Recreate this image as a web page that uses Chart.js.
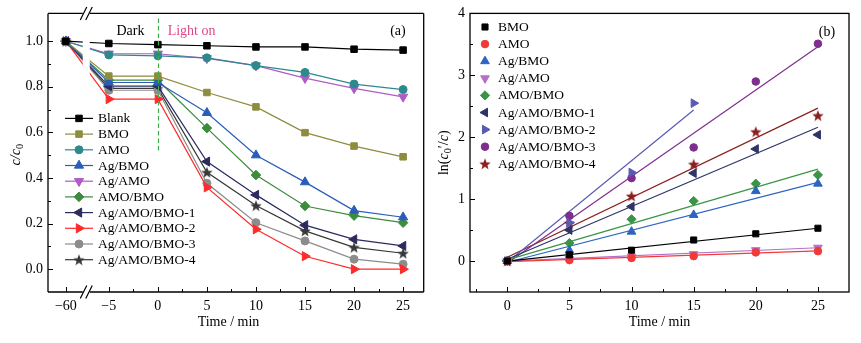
<!DOCTYPE html>
<html lang="en">
<head>
<meta charset="UTF-8">
<title>c/c0 and ln(c0'/c) vs time</title>
<script src="https://cdn.jsdelivr.net/npm/chart.js"></script>
<style>
  body { margin: 0; background: #fff; }
  .panel { position: absolute; top: 0; height: 343px; }
  #panelA { left: 0; width: 430px; }
  #panelB { left: 430px; width: 431px; }
</style>
</head>
<body>
<div class="panel" id="panelA"><canvas id="chartA" width="430" height="343"></canvas></div>
<div class="panel" id="panelB"><canvas id="chartB" width="431" height="343"></canvas></div>
<script>
// ---------- panel (a): c/c0 vs time ----------
const timeA = [-60, -5, 0, 5, 10, 15, 20, 25];
const namesA = ['Blank', 'BMO', 'AMO', 'Ag/BMO', 'Ag/AMO', 'AMO/BMO',
                'Ag/AMO/BMO-1', 'Ag/AMO/BMO-2', 'Ag/AMO/BMO-3', 'Ag/AMO/BMO-4'];
const blankA  = [1.0, 0.990, 0.985, 0.980, 0.975, 0.975, 0.965, 0.961];
const bmoA    = [1.0, 0.847, 0.847, 0.775, 0.712, 0.599, 0.540, 0.493];
const amoA    = [1.0, 0.940, 0.936, 0.927, 0.893, 0.863, 0.812, 0.788];
const agBmoA  = [1.0, 0.819, 0.819, 0.686, 0.500, 0.382, 0.257, 0.228];
const agAmoA  = [1.0, 0.945, 0.945, 0.925, 0.893, 0.838, 0.793, 0.756];
const amoBmoA = [1.0, 0.829, 0.829, 0.619, 0.413, 0.277, 0.235, 0.204];
const s1A     = [1.0, 0.803, 0.803, 0.472, 0.326, 0.193, 0.131, 0.102];
const s2A     = [1.0, 0.746, 0.746, 0.359, 0.175, 0.057, 0.000, 0.000];
const s3A     = [1.0, 0.785, 0.785, 0.377, 0.204, 0.124, 0.044, 0.022];
const s4A     = [1.0, 0.793, 0.793, 0.425, 0.279, 0.168, 0.096, 0.070];
const valuesA = [blankA, bmoA, amoA, agBmoA, agAmoA, amoBmoA, s1A, s2A, s3A, s4A];
const ticksXA = [-60, -5, 0, 5, 10, 15, 20, 25];
const ticksYA = [0, 0.2, 0.4, 0.6, 0.8, 1.0];

// ---------- panel (b): ln(c0'/c) vs time ----------
const timeB = [0, 5, 10, 15, 20, 25];
const namesB = ['BMO', 'AMO', 'Ag/BMO', 'Ag/AMO', 'AMO/BMO',
                'Ag/AMO/BMO-1', 'Ag/AMO/BMO-2', 'Ag/AMO/BMO-3', 'Ag/AMO/BMO-4'];
const bmoB    = [0, 0.10, 0.175, 0.34, 0.44, 0.53];
const amoB    = [0, 0.016, 0.05, 0.08, 0.14, 0.16];
const agBmoB  = [0, 0.17, 0.475, 0.745, 1.13, 1.25];
const agAmoB  = [0, 0.03, 0.07, 0.11, 0.175, 0.215];
const amoBmoB = [0, 0.29, 0.675, 0.97, 1.25, 1.39];
const s1B     = [0, 0.50, 0.88, 1.42, 1.81, 2.04];
const s2B     = [0, 0.62, 1.43, 2.55];
const s3B     = [0, 0.73, 1.34, 1.835, 2.90, 3.51];
const s4B     = [0, 0.61, 1.05, 1.565, 2.09, 2.35];
const valuesB = [bmoB, amoB, agBmoB, agAmoB, amoBmoB, s1B, s2B, s3B, s4B];
// linear fits: value at t=0 and at the last time
const fitStartB   = [0.0, -0.01, -0.02, 0.0, 0.02, 0.03, -0.02, -0.03, 0.06];
const fitEndB     = [0.53, 0.165, 1.27, 0.215, 1.485, 2.16, 2.44, 3.46, 2.47];
const fitEndTimeB = [25, 25, 25, 25, 25, 25, 15, 25, 25];
const ticksXB = [0, 5, 10, 15, 20, 25];
const ticksYB = [0, 1, 2, 3, 4];

// ---------- look ----------
const FONT = '"Liberation Serif", "Times New Roman", serif';
const POS_60 = -9.38;     // where -60 sits on the squeezed axis
const BREAK_AT = -7.3;    // axis break between -60 and -5
const posA = t => (t === -60 ? POS_60 : t);
const minus = s => String(s).replace('-', '\u2212');

function starImage(color, size) {
  const c = document.createElement('canvas');
  c.width = c.height = size;
  const g = c.getContext('2d');
  const R = size / 2, r = R * 0.42;
  g.beginPath();
  for (let k = 0; k < 10; k++) {
    const rad = k % 2 ? r : R;
    const ang = -Math.PI / 2 + k * Math.PI / 5;
    g.lineTo(R + rad * Math.cos(ang), R + 0.6 + rad * Math.sin(ang));
  }
  g.closePath();
  g.fillStyle = color;
  g.fill();
  return c;
}

const styleA = [
  { color: '#000000', shape: 'rect', rot: 0, r: 4.6 },
  { color: '#8e8c3e', shape: 'rect', rot: 0, r: 4.6 },
  { color: '#2c8a8c', shape: 'circle', rot: 0, r: 4 },
  { color: '#2a5cb8', shape: 'triangle', rot: 0, r: 5.3 },
  { color: '#b05cc8', shape: 'triangle', rot: 180, r: 5.3 },
  { color: '#3c8c3e', shape: 'rectRot', rot: 0, r: 4.8 },
  { color: '#2b2b5e', shape: 'triangle', rot: 270, r: 5.3 },
  { color: '#ff2a2a', shape: 'triangle', rot: 90, r: 5.3 },
  { color: '#8c8c8c', shape: 'circle', rot: 0, r: 4 },
  { color: '#383838', shape: 'star', rot: 0, r: 5 }
];
const styleB = [
  { color: '#000000', shape: 'rect', rot: 0, r: 4.3 },
  { color: '#f03a3a', shape: 'circle', rot: 0, r: 3.8 },
  { color: '#2c64c0', shape: 'triangle', rot: 0, r: 5 },
  { color: '#b46fc6', shape: 'triangle', rot: 180, r: 5 },
  { color: '#3a9446', shape: 'rectRot', rot: 0, r: 4.6 },
  { color: '#2e3466', shape: 'triangle', rot: 270, r: 5 },
  { color: '#5a5ab4', shape: 'triangle', rot: 90, r: 5 },
  { color: '#7e2e8e', shape: 'circle', rot: 0, r: 3.8 },
  { color: '#8b1e1e', shape: 'star', rot: 0, r: 5 }
];
const markOf = st => (st.shape === 'star' ? starImage(st.color, 12) : st.shape);
const marksA = styleA.map(markOf);
const marksB = styleB.map(markOf);

function fixedTicks(values) {
  return scale => { scale.ticks = values.map(v => ({ value: v })); };
}

function drawMarker(ctx, st, mark, x, y) {
  ctx.save();
  ctx.fillStyle = st.color;
  ctx.strokeStyle = st.color;
  ctx.lineWidth = 1;
  Chart.helpers.drawPoint(ctx, { pointStyle: mark, rotation: st.rot, radius: st.r, borderWidth: 1 }, x, y);
  ctx.restore();
}

function richText(ctx, parts, cx, cy, angle) {
  const size = 14;
  const fontOf = p => (p.italic ? 'italic ' : '') + (p.sub ? size * 0.72 : size) + 'px ' + FONT;
  ctx.save();
  ctx.translate(cx, cy);
  ctx.rotate(angle);
  ctx.fillStyle = '#000';
  ctx.textBaseline = 'alphabetic';
  ctx.textAlign = 'left';
  let total = 0;
  parts.forEach(p => { ctx.font = fontOf(p); total += ctx.measureText(p.t).width; });
  let x = -total / 2;
  parts.forEach(p => {
    ctx.font = fontOf(p);
    ctx.fillText(p.t, x, 5 + (p.sub ? 3 : 0));
    x += ctx.measureText(p.t).width;
  });
  ctx.restore();
}

function drawTickMarks(chart, xMajor, xMinor, yMajor, yMinor) {
  const { ctx, chartArea: a, scales: { x, y } } = chart;
  ctx.save();
  ctx.strokeStyle = '#000';
  ctx.lineWidth = 1;
  ctx.beginPath();
  const vx = (v, len) => { const p = Math.round(x.getPixelForValue(v)) + 0.5; ctx.moveTo(p, a.bottom); ctx.lineTo(p, a.bottom - len); };
  const vy = (v, len) => { const p = Math.round(y.getPixelForValue(v)) + 0.5; ctx.moveTo(a.left, p); ctx.lineTo(a.left + len, p); };
  xMajor.forEach(v => vx(v, 5));
  xMinor.forEach(v => vx(v, 3));
  yMajor.forEach(v => vy(v, 5));
  yMinor.forEach(v => vy(v, 3));
  ctx.stroke();
  ctx.restore();
}

function tickFont() { return { family: FONT, size: 14 }; }

// ---------- chart (a) ----------
const decorA = {
  id: 'decorA',
  afterDatasetsDraw(chart) {
    const { ctx, scales: { x, y } } = chart;
    const bx = x.getPixelForValue(BREAK_AT);
    const top = y.getPixelForValue(1.06), bot = y.getPixelForValue(0.7);
    ctx.save();
    ctx.fillStyle = '#fff';
    ctx.fillRect(bx - 3.5, top, 7, bot - top);
    ctx.restore();
  },
  afterDraw(chart) {
    const { ctx, chartArea: a, scales: { x, y } } = chart;
    const bx = x.getPixelForValue(BREAK_AT);
    ctx.save();
    // frame with the axis break
    ctx.strokeStyle = '#000';
    ctx.lineWidth = 1.3;
    ctx.beginPath();
    ctx.moveTo(a.left, a.top); ctx.lineTo(a.left, a.bottom);
    ctx.moveTo(a.right, a.top); ctx.lineTo(a.right, a.bottom);
    [a.top, a.bottom].forEach(yy => {
      ctx.moveTo(a.left, yy); ctx.lineTo(bx - 3.5, yy);
      ctx.moveTo(bx + 3.5, yy); ctx.lineTo(a.right, yy);
    });
    ctx.stroke();
    ctx.lineWidth = 1.2;
    ctx.beginPath();
    [a.top, a.bottom].forEach(yy => {
      [-3, 2.5].forEach(dx => {
        ctx.moveTo(bx + dx - 3, yy + 6.5);
        ctx.lineTo(bx + dx + 3.5, yy - 6.5);
      });
    });
    ctx.stroke();
    ctx.restore();

    drawTickMarks(chart, ticksXA.map(posA), [-2.5, 2.5, 7.5, 12.5, 17.5, 22.5],
                  ticksYA, [0.1, 0.3, 0.5, 0.7, 0.9]);

    // dark / light divider
    ctx.save();
    ctx.strokeStyle = '#3fae49';
    ctx.lineWidth = 1.2;
    ctx.setLineDash([4.5, 3]);
    ctx.beginPath();
    const x0 = Math.round(x.getPixelForValue(0)) + 0.5;
    ctx.moveTo(x0, y.getPixelForValue(1.1));
    ctx.lineTo(x0, y.getPixelForValue(0.52));
    ctx.stroke();
    ctx.setLineDash([]);
    ctx.font = '14px ' + FONT;
    ctx.textBaseline = 'middle';
    ctx.fillStyle = '#000';
    ctx.textAlign = 'center';
    ctx.fillText('Dark', x.getPixelForValue(-2.8), a.top + 18);
    ctx.fillStyle = '#e0468a';
    ctx.textAlign = 'left';
    ctx.fillText('Light on', x.getPixelForValue(1.0), a.top + 18);
    ctx.fillStyle = '#000';
    ctx.textAlign = 'right';
    ctx.fillText('(a)', a.right - 18, a.top + 18);

    // legend
    ctx.font = '13.5px ' + FONT;
    ctx.textAlign = 'left';
    namesA.forEach((name, i) => {
      const ly = a.top + 105 + i * 15.7;
      const st = styleA[i];
      ctx.strokeStyle = st.color;
      ctx.lineWidth = 1.2;
      ctx.beginPath();
      ctx.moveTo(a.left + 17, ly);
      ctx.lineTo(a.left + 45, ly);
      ctx.stroke();
      drawMarker(ctx, st, marksA[i], a.left + 31, ly);
      ctx.fillStyle = '#000';
      ctx.fillText(name, a.left + 50, ly + 0.5);
    });
    ctx.restore();

    richText(ctx, [{ t: 'c/c', italic: true }, { t: '0', sub: true }], 15, (a.top + a.bottom) / 2 + 2, -Math.PI / 2);
    richText(ctx, [{ t: 'Time / min' }], 228.5, 321, 0);
  }
};

new Chart(document.getElementById('chartA'), {
  type: 'line',
  data: {
    datasets: namesA.map((name, i) => ({
      label: name,
      data: timeA.map((t, k) => ({ x: posA(t), y: valuesA[i][k] })),
      borderColor: styleA[i].color,
      backgroundColor: styleA[i].color,
      borderWidth: 1.2,
      pointStyle: marksA[i],
      pointRotation: styleA[i].rot,
      pointRadius: styleA[i].r,
      pointBorderWidth: 1,
      pointBackgroundColor: styleA[i].color,
      pointBorderColor: styleA[i].color,
      tension: 0,
      order: i
    }))
  },
  options: {
    responsive: false,
    animation: false,
    layout: { padding: { left: 0, right: 3, top: 13, bottom: 0 } },
    plugins: { legend: { display: false }, tooltip: { enabled: false } },
    scales: {
      x: {
        type: 'linear', min: -11.2, max: 27.1,
        grid: { display: false, drawTicks: false },
        border: { display: false },
        afterBuildTicks: fixedTicks(ticksXA.map(posA)),
        afterFit: s => { s.height = 51; },
        ticks: {
          padding: 6, color: '#000', font: tickFont(), maxRotation: 0, autoSkip: false,
          callback: (v, i) => minus(ticksXA[i])
        }
      },
      y: {
        type: 'linear', min: -0.1, max: 1.122,
        grid: { display: false, drawTicks: false },
        border: { display: false },
        afterBuildTicks: fixedTicks(ticksYA),
        afterFit: s => { s.width = 48; },
        ticks: { padding: 5, color: '#000', font: tickFont(), callback: v => v.toFixed(1) }
      }
    }
  },
  plugins: [decorA]
});

// ---------- chart (b) ----------
const decorB = {
  id: 'decorB',
  afterDraw(chart) {
    const { ctx, chartArea: a } = chart;
    ctx.save();
    ctx.strokeStyle = '#000';
    ctx.lineWidth = 1.3;
    ctx.strokeRect(a.left, a.top, a.right - a.left, a.bottom - a.top);
    ctx.restore();

    drawTickMarks(chart, ticksXB, [-2.5, 2.5, 7.5, 12.5, 17.5, 22.5],
                  ticksYB, [0.5, 1.5, 2.5, 3.5]);

    ctx.save();
    ctx.font = '14px ' + FONT;
    ctx.fillStyle = '#000';
    ctx.textBaseline = 'middle';
    ctx.textAlign = 'center';
    ctx.fillText('(b)', a.right - 22, a.top + 19);

    ctx.font = '13.5px ' + FONT;
    ctx.textAlign = 'left';
    namesB.forEach((name, i) => {
      const ly = 27 + i * 17.1;
      drawMarker(ctx, styleB[i], marksB[i], a.left + 15, ly);
      ctx.fillStyle = '#000';
      ctx.fillText(name, a.left + 28, ly + 0.5);
    });
    ctx.restore();

    richText(ctx, [{ t: 'ln(' }, { t: 'c', italic: true }, { t: '0', sub: true }, { t: '\u2032/' },
                   { t: 'c', italic: true }, { t: ')' }], 13, (a.top + a.bottom) / 2, -Math.PI / 2);
    richText(ctx, [{ t: 'Time / min' }], (a.left + a.right) / 2, 321, 0);
  }
};

const pointSetsB = namesB.map((name, i) => ({
  label: name,
  data: valuesB[i].map((v, k) => ({ x: timeB[k], y: v })),
  showLine: false,
  pointStyle: marksB[i],
  pointRotation: styleB[i].rot,
  pointRadius: styleB[i].r,
  pointBorderWidth: 1,
  pointBackgroundColor: styleB[i].color,
  pointBorderColor: styleB[i].color,
  order: 0
}));
const fitSetsB = namesB.map((name, i) => ({
  label: name + ' fit',
  data: [{ x: 0, y: fitStartB[i] }, { x: fitEndTimeB[i], y: fitEndB[i] }],
  showLine: true,
  borderColor: styleB[i].color,
  borderWidth: 1.2,
  pointRadius: 0,
  order: 5
}));

new Chart(document.getElementById('chartB'), {
  type: 'scatter',
  data: { datasets: pointSetsB.concat(fitSetsB) },
  options: {
    responsive: false,
    animation: false,
    layout: { padding: { left: 0, right: 12, top: 13, bottom: 0 } },
    plugins: { legend: { display: false }, tooltip: { enabled: false } },
    scales: {
      x: {
        type: 'linear', min: -3, max: 27.5,
        grid: { display: false, drawTicks: false },
        border: { display: false },
        afterBuildTicks: fixedTicks(ticksXB),
        afterFit: s => { s.height = 51; },
        ticks: { padding: 6, color: '#000', font: tickFont(), maxRotation: 0, autoSkip: false }
      },
      y: {
        type: 'linear', min: -0.5, max: 4,
        grid: { display: false, drawTicks: false },
        border: { display: false },
        afterBuildTicks: fixedTicks(ticksYB),
        afterFit: s => { s.width = 40; },
        ticks: { padding: 5, color: '#000', font: tickFont() }
      }
    }
  },
  plugins: [decorB]
});
</script>
</body>
</html>
